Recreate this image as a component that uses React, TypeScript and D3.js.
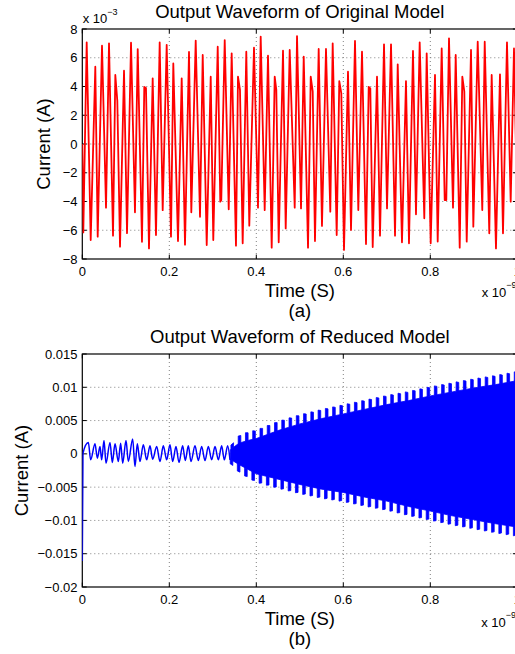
import React from "react";
import * as d3 from "d3";

const W = 515;
const H = 654;
const FONT = "'Liberation Sans', Arial, Helvetica, sans-serif";

// ---------- DATA ----------
// Top panel: time (x1e-9 s) and current (x1e-3 A), extrema
const topTime = [
  0, 0.0023, 0.0101, 0.0193, 0.0299, 0.0354, 0.0453, 0.0545, 0.0614, 0.0706,
  0.0759, 0.0805, 0.0867, 0.0959, 0.1028, 0.112, 0.1211, 0.1274, 0.1372, 0.1425,
  0.1464, 0.1533, 0.1618, 0.1694, 0.1779, 0.1848, 0.194, 0.2039, 0.2092, 0.22,
  0.2285, 0.2361, 0.2453, 0.2506, 0.2607, 0.2706, 0.2768, 0.286, 0.2952, 0.3011,
  0.3113, 0.3172, 0.3195, 0.3274, 0.3366, 0.3434, 0.3533, 0.3579, 0.3625, 0.3687,
  0.377, 0.3839, 0.3947, 0.4039, 0.4101, 0.4193, 0.4269, 0.4354, 0.4423, 0.446,
  0.4515, 0.4614, 0.4676, 0.4768, 0.4883, 0.4936, 0.5028, 0.509, 0.5189, 0.5251,
  0.5297, 0.5349, 0.5434, 0.551, 0.5602, 0.5701, 0.5756, 0.5848, 0.5908, 0.5954,
  0.6016, 0.6108, 0.6177, 0.6269, 0.6345, 0.643, 0.6522, 0.6584, 0.6621, 0.6676,
  0.6775, 0.6844, 0.6936, 0.7005, 0.7097, 0.7189, 0.7251, 0.7349, 0.7441, 0.751,
  0.7602, 0.7671, 0.7756, 0.7862, 0.7917, 0.8009, 0.8108, 0.817, 0.8262, 0.8331,
  0.8368, 0.843, 0.8522, 0.8584, 0.8676, 0.8736, 0.8782, 0.8837, 0.8936, 0.8989,
  0.909, 0.9195, 0.9251, 0.9356, 0.9411, 0.951, 0.9602, 0.9671, 0.9763, 0.9848,
  0.9924, 1.0,
];
const topCurrent = [
  0, -6.15, 7.07, -6.68, 5.38, -6.45, 6.84, -4.43, 7.0, -6.38,
  4.8, 3.0, -7.14, 5.1, -6.2, 7.05, -4.75, 6.6, -6.8, 3.97,
  3.9, -7.26, 4.57, -6.33, 7.07, -4.6, 6.9, -6.45, 5.6, -6.75,
  4.57, -7.0, 6.4, -4.75, 7.19, -5.06, 6.19, -7.03, 4.68, -6.68,
  6.77, -4.01, -3.9, 7.23, -4.54, 6.31, -7.07, 4.68, 3.76, -6.91,
  6.42, -5.68, 6.7, -4.43, 7.47, -4.6, 6.14, -7.21, 4.68, 3.76,
  -6.84, 6.49, -5.87, 6.54, -4.43, 7.51, -4.48, 6.08, -7.21, 4.68,
  3.64, -6.75, 6.61, -5.7, 6.61, -4.71, 7.0, -6.33, 4.38, 3.52,
  -7.37, 5.03, -5.98, 7.17, -4.59, 6.42, -6.96, 3.97, 3.87, -7.17,
  4.68, -6.38, 6.93, -4.48, 6.93, -6.38, 5.54, -6.84, 4.38, -6.91,
  6.47, -4.89, 7.07, -5.17, 6.31, -6.91, 4.8, -6.79, 6.65, -3.9,
  -3.9, 7.35, -4.43, 6.19, -7.21, 4.68, 3.64, -6.79, 6.54, -5.75,
  7.12, -4.59, 7.12, -6.21, 4.8, -7.26, 4.85, -6.21, 7.07, -4.01,
  6.65, -5.0,
];

// Bottom panel, early part: time (x1e-9 s), current (x1e-3 A)
const botEarlyTime = [
  0, 0.0015, 0.0139, 0.0192, 0.0292, 0.0346, 0.0407, 0.0445, 0.0499, 0.0545,
  0.0637, 0.069, 0.0752, 0.0828, 0.0882, 0.0928, 0.1005, 0.1058, 0.1158, 0.1211,
  0.1265, 0.1326, 0.1403, 0.148, 0.1556, 0.1618, 0.171, 0.1786, 0.1863, 0.194,
  0.2016, 0.2077, 0.2154, 0.2223, 0.2307, 0.2368, 0.2437, 0.2499, 0.2591, 0.2667,
  0.2744, 0.2821, 0.2897, 0.2974, 0.3051, 0.3127, 0.3204, 0.3265, 0.3342, 0.3395,
];
const botEarlyCurrent = [
  -16.1, 0.1, 1.7, -0.9, 1.5, -0.65, 1.1, -0.9, 2.0, -1.4,
  1.7, -1.3, 1.5, -1.15, 1.6, -1.4, 2.0, -1.15, 2.25, -1.9,
  1.5, -1.15, 1.35, -0.9, 1.2, -0.8, 1.1, -1.15, 1.2, -0.9,
  1.35, -1.15, 1.1, -1.3, 1.2, -1.0, 1.2, -1.15, 1.2, -1.0,
  1.1, -1.0, 1.1, -0.9, 1.1, -0.9, 1.2, -0.9, 1.2, -0.9,
];

// Bottom panel, dense oscillation envelope (x1e-3 A)
const envTime = [0.34, 0.36, 0.38, 0.4, 0.45, 0.5, 0.55, 0.6, 0.65, 0.7, 0.75, 0.8, 0.85, 0.9, 0.95, 1.0];
const envUpperTooth = [1.2, 2.8, 3.3, 3.6, 4.9, 5.9, 6.7, 7.4, 8.1, 8.8, 9.4, 10.1, 10.7, 11.3, 11.8, 12.4];
const envUpperBody = [0.6, 1.6, 2.0, 2.3, 3.5, 4.5, 5.3, 6.0, 6.7, 7.4, 8.0, 8.7, 9.3, 9.9, 10.4, 11.0];
const envLowerBody = [-0.8, -1.6, -2.3, -3.0, -3.8, -4.6, -5.3, -5.8, -6.5, -7.1, -7.9, -8.6, -9.3, -9.9, -10.5, -11.0];
const envLowerTooth = [-1.5, -2.8, -3.6, -4.3, -5.2, -6.0, -6.7, -7.2, -7.9, -8.5, -9.3, -10.0, -10.7, -11.3, -11.9, -12.4];
const toothStart = 0.3417;
const toothPeriod = 0.0167;
const toothWidth = 0.006;

// Axes ticks
const xTicks = [0, 0.2, 0.4, 0.6, 0.8, 1];
const xTickLabels = ["0", "0.2", "0.4", "0.6", "0.8", "1"];
const topYTicks = [-8, -6, -4, -2, 0, 2, 4, 6, 8];
const topYTickLabels = ["\u22128", "\u22126", "\u22124", "\u22122", "0", "2", "4", "6", "8"];
const botYTicks = [-0.02, -0.015, -0.01, -0.005, 0, 0.005, 0.01, 0.015];
const botYTickLabels = ["\u22120.02", "\u22120.015", "\u22120.01", "\u22120.005", "0", "0.005", "0.01", "0.015"];

// ---------- LAYOUT ----------
const LEFT = 82.3;
const RIGHT = 517.3;
const TOP1 = 29;
const BOT1 = 259;
const TOP2 = 354;
const BOT2 = 587;
const TICK = 4.4;

const xScale = d3.scaleLinear().domain([0, 1]).range([LEFT, RIGHT]);
const yTop = d3.scaleLinear().domain([-8, 8]).range([BOT1, TOP1]);
const yBot = d3.scaleLinear().domain([-0.02, 0.015]).range([BOT2, TOP2]);

type PanelProps = {
  top: number;
  bottom: number;
  y: d3.ScaleLinear<number, number>;
  yTicks: number[];
  yLabels: string[];
};

function Frame({ top, bottom, y, yTicks, yLabels }: PanelProps) {
  return (
    <g>
      {xTicks.slice(1, -1).map((t) => (
        <line key={"gx" + t} x1={xScale(t)} x2={xScale(t)} y1={top} y2={bottom}
          stroke="#808080" strokeWidth={1} strokeDasharray="1,3" />
      ))}
      {yTicks.slice(1, -1).map((t) => (
        <line key={"gy" + t} x1={LEFT} x2={RIGHT} y1={y(t)} y2={y(t)}
          stroke="#808080" strokeWidth={1} strokeDasharray="1,3" />
      ))}
      <rect x={LEFT} y={top} width={RIGHT - LEFT} height={bottom - top} fill="none" stroke="#000" strokeWidth={1.2} />
      {xTicks.map((t) => (
        <g key={"tx" + t}>
          <line x1={xScale(t)} x2={xScale(t)} y1={bottom} y2={bottom - TICK} stroke="#000" />
          <line x1={xScale(t)} x2={xScale(t)} y1={top} y2={top + TICK} stroke="#000" />
        </g>
      ))}
      {yTicks.map((t) => (
        <g key={"ty" + t}>
          <line x1={LEFT} x2={LEFT + TICK} y1={y(t)} y2={y(t)} stroke="#000" />
          <line x1={RIGHT} x2={RIGHT - TICK} y1={y(t)} y2={y(t)} stroke="#000" />
        </g>
      ))}
      {xTicks.map((t, i) => (
        <text key={"lx" + t} x={xScale(t)} y={bottom + 17} textAnchor="middle" fontSize={13} fontFamily={FONT} fill="#000">
          {xTickLabels[i]}
        </text>
      ))}
      {yTicks.map((t, i) => (
        <text key={"ly" + t} x={LEFT - 4.8} y={y(t)} dy="0.35em" textAnchor="end" fontSize={13} fontFamily={FONT} fill="#000">
          {yLabels[i]}
        </text>
      ))}
    </g>
  );
}

export default function App() {
  // top waveform
  const nTop = Math.min(topTime.length, topCurrent.length);
  const topPts: [number, number][] = [];
  for (let i = 0; i < nTop; i++) topPts.push([xScale(topTime[i]), yTop(topCurrent[i])]);
  const topPath = d3.line().curve(d3.curveLinear)(topPts) || "";

  // bottom early waveform
  const nE = Math.min(botEarlyTime.length, botEarlyCurrent.length);
  const earlyPts: [number, number][] = [];
  for (let i = 0; i < nE; i++) earlyPts.push([xScale(botEarlyTime[i]), yBot(botEarlyCurrent[i] * 1e-3)]);
  const earlyPath = d3.line().curve(d3.curveMonotoneX)(earlyPts) || "";

  // dense envelope
  const uT = d3.scaleLinear().domain(envTime).range(envUpperTooth).clamp(true);
  const uB = d3.scaleLinear().domain(envTime).range(envUpperBody).clamp(true);
  const lB = d3.scaleLinear().domain(envTime).range(envLowerBody).clamp(true);
  const lT = d3.scaleLinear().domain(envTime).range(envLowerTooth).clamp(true);
  const bodyArea =
    d3.area<number>()
      .x((t) => xScale(t))
      .y0((t) => yBot(lB(t) * 1e-3))
      .y1((t) => yBot(uB(t) * 1e-3))(envTime) || "";

  const teeth: string[] = [];
  for (let tb = toothStart; tb < 1.0; tb += toothPeriod) {
    const te = Math.min(tb + toothWidth, 1.0);
    const up: [number, number][] = [
      [xScale(tb), yBot(uB(tb) * 1e-3)],
      [xScale(tb), yBot(uT(tb) * 1e-3)],
      [xScale(te), yBot((uT(te) - 0.15) * 1e-3)],
      [xScale(te), yBot(uB(te) * 1e-3)],
    ];
    const tb2 = Math.max(tb - 0.002, 0.34);
    const te2 = Math.min(tb2 + toothWidth, 1.0);
    const lo: [number, number][] = [
      [xScale(tb2), yBot(lB(tb2) * 1e-3)],
      [xScale(tb2), yBot(lT(tb2) * 1e-3)],
      [xScale(te2), yBot((lT(te2) + 0.15) * 1e-3)],
      [xScale(te2), yBot(lB(te2) * 1e-3)],
    ];
    teeth.push("M" + up.map((p) => p.join(",")).join("L") + "Z");
    teeth.push("M" + lo.map((p) => p.join(",")).join("L") + "Z");
  }

  const cx = (LEFT + RIGHT) / 2;

  return (
    <svg width={W} height={H} style={{ position: "absolute", left: 0, top: 0, background: "#fff" }}>
      <rect x={0} y={0} width={W} height={H} fill="#fff" />
      <defs>
        <clipPath id="clipTop"><rect x={LEFT} y={TOP1} width={RIGHT - LEFT} height={BOT1 - TOP1} /></clipPath>
        <clipPath id="clipBot"><rect x={LEFT} y={TOP2} width={RIGHT - LEFT} height={BOT2 - TOP2} /></clipPath>
      </defs>

      {/* Panel (a) */}
      <Frame top={TOP1} bottom={BOT1} y={yTop} yTicks={topYTicks} yLabels={topYTickLabels} />
      <g clipPath="url(#clipTop)">
        <path d={topPath} fill="none" stroke="#ff0000" strokeWidth={1.8} strokeLinejoin="round" />
      </g>
      <text x={cx} y={18.3} textAnchor="middle" fontSize={18.5} fontFamily={FONT} fill="#000">Output Waveform of Original Model</text>
      <text x={82.7} y={22.7} fontSize={13} fontFamily={FONT} fill="#000">
        x 10<tspan dy={-8} fontSize={9}>{"\u22123"}</tspan>
      </text>
      <text x={cx} y={296.5} textAnchor="middle" fontSize={18.5} fontFamily={FONT} fill="#000">Time (S)</text>
      <text x={cx} y={317} textAnchor="middle" fontSize={18.5} fontFamily={FONT} fill="#000">(a)</text>
      <text x={481.7} y={297.3} fontSize={13} fontFamily={FONT} fill="#000">
        x 10<tspan dy={-9} fontSize={9}>{"\u22129"}</tspan>
      </text>
      <text transform={`translate(49.5,${(TOP1 + BOT1) / 2}) rotate(-90)`} textAnchor="middle" fontSize={18.5} fontFamily={FONT} fill="#000">Current (A)</text>

      {/* Panel (b) */}
      <Frame top={TOP2} bottom={BOT2} y={yBot} yTicks={botYTicks} yLabels={botYTickLabels} />
      <g clipPath="url(#clipBot)">
        <path d={earlyPath} fill="none" stroke="#0000ff" strokeWidth={1.5} strokeLinejoin="round" />
        <path d={bodyArea} fill="#0000ff" stroke="#0000ff" strokeWidth={0.8} />
        {teeth.map((d, i) => (
          <path key={i} d={d} fill="#0000ff" stroke="#0000ff" strokeWidth={0.8} />
        ))}
      </g>
      <text x={cx} y={342.5} textAnchor="middle" fontSize={18.5} fontFamily={FONT} fill="#000">Output Waveform of Reduced Model</text>
      <text x={cx} y={624.5} textAnchor="middle" fontSize={18.5} fontFamily={FONT} fill="#000">Time (S)</text>
      <text x={cx} y={645} textAnchor="middle" fontSize={18.5} fontFamily={FONT} fill="#000">(b)</text>
      <text x={481.2} y={626.5} fontSize={13} fontFamily={FONT} fill="#000">
        x 10<tspan dy={-9} fontSize={9}>{"\u22129"}</tspan>
      </text>
      <text transform={`translate(27.5,${(TOP2 + BOT2) / 2}) rotate(-90)`} textAnchor="middle" fontSize={18.5} fontFamily={FONT} fill="#000">Current (A)</text>
    </svg>
  );
}
